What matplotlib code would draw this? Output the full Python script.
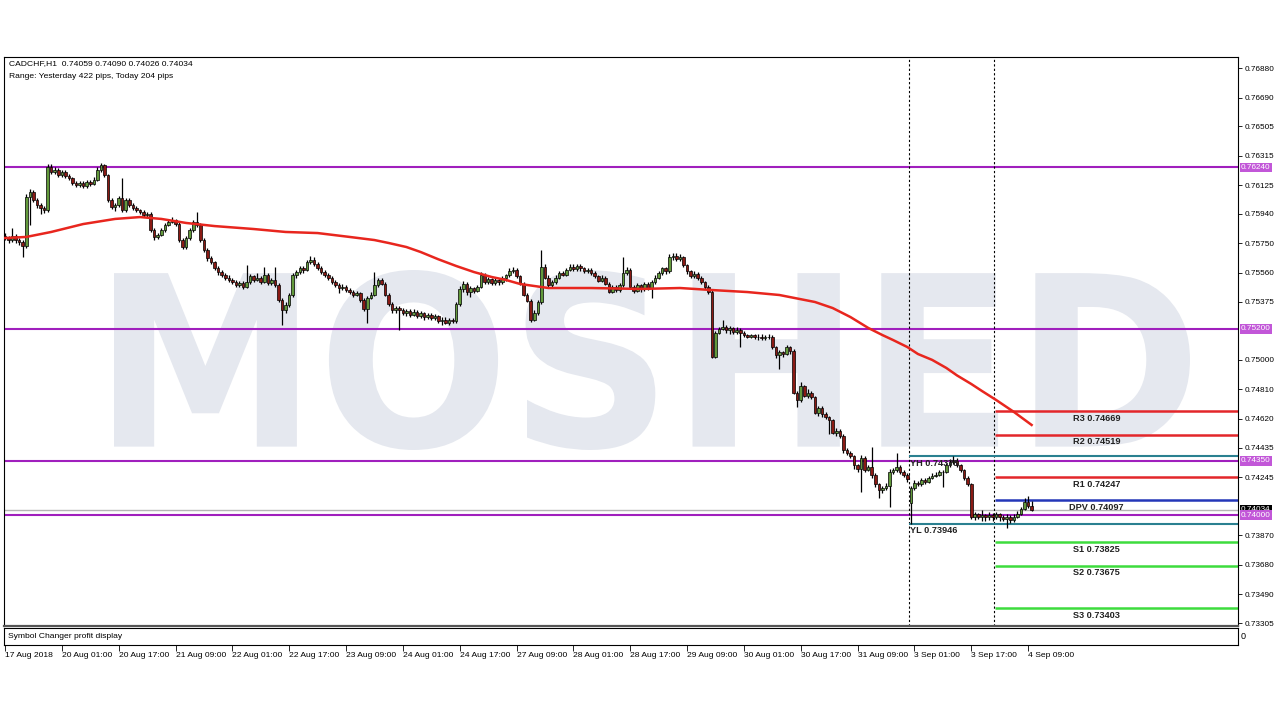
import numpy as np
import matplotlib.pyplot as plt
from matplotlib.textpath import TextPath
from matplotlib.font_manager import FontProperties
from matplotlib.patches import PathPatch
from matplotlib.transforms import Affine2D

# CADCHF H1 candles, prices in points (1e-5)
opens = [
    75800, 75785, 75772, 75798, 75772, 75759, 75734, 76049, 76081, 76030,
    75998, 75978, 75966, 76242, 76210, 76223, 76191, 76210, 76184, 76172,
    76140, 76127, 76140, 76120, 76146, 76133, 76159, 76223, 76255, 76191,
    76030, 75985, 75998, 76043, 75966, 76030, 75998, 75978, 75966, 75953,
    75933, 75940, 75837, 75792, 75805, 75837, 75869, 75888, 75901, 75875,
    75772, 75727, 75785, 75837, 75888, 75869, 75772, 75708, 75656, 75631,
    75592, 75566, 75547, 75528, 75515, 75502, 75483, 75496, 75470, 75502,
    75540, 75515, 75528, 75502, 75547, 75496, 75515, 75483, 75386, 75322,
    75354, 75418, 75547, 75566, 75592, 75579, 75631, 75644, 75618, 75592,
    75566, 75547, 75528, 75502, 75483, 75463, 75470, 75450, 75437, 75418,
    75431, 75386, 75330, 75399, 75420, 75480, 75515, 75490, 75420, 75360,
    75320, 75335, 75320, 75300, 75315, 75290, 75310, 75285, 75300, 75275,
    75290, 75270, 75280, 75250, 75260, 75240, 75255, 75250, 75360, 75455,
    75490, 75440, 75460, 75445, 75470, 75550, 75500, 75520, 75495, 75515,
    75500, 75525, 75545, 75570, 75580, 75540, 75490, 75420, 75380, 75260,
    75300, 75370, 75600, 75530, 75480, 75500, 75530, 75560, 75550, 75580,
    75600, 75585, 75605, 75590, 75570, 75580, 75560, 75540, 75510, 75530,
    75490, 75440, 75470, 75450, 75480, 75560, 75580, 75470, 75445, 75480,
    75455, 75490, 75460, 75500, 75530, 75560, 75590, 75570, 75660, 75670,
    75650, 75660, 75610, 75570, 75540, 75555, 75530, 75500, 75470, 75440,
    75020, 75175, 75200, 75215, 75190, 75205, 75180, 75195, 75175, 75160,
    75150, 75160, 75145, 75150, 75140, 75145, 75150, 75080, 75030, 75050,
    75040, 75080, 75060, 74790, 74740, 74830, 74770, 74790, 74760, 74660,
    74690, 74650, 74630, 74610, 74530, 74545, 74510, 74420, 74400, 74380,
    74320, 74300, 74370, 74290, 74310, 74260, 74200, 74160, 74175, 74190,
    74280, 74290, 74310, 74280, 74260, 74080, 74175, 74210, 74200, 74225,
    74215, 74240, 74255, 74260, 74275, 74280, 74320, 74340, 74350, 74320,
    74290, 74240, 74200, 73990, 74005, 73990, 74000, 73985, 74000, 73990,
    74005, 73985, 73975, 73990, 73970, 73990, 74010, 74040, 74085, 74059,
]
closes = [
    75785, 75772, 75798, 75772, 75759, 75734, 76049, 76081, 76030, 75998,
    75978, 75966, 76242, 76210, 76223, 76191, 76210, 76184, 76172, 76140,
    76127, 76140, 76120, 76146, 76133, 76159, 76223, 76255, 76191, 76030,
    75985, 75998, 76043, 75966, 76030, 75998, 75978, 75966, 75953, 75933,
    75940, 75837, 75792, 75805, 75837, 75869, 75888, 75901, 75875, 75772,
    75727, 75785, 75837, 75888, 75869, 75772, 75708, 75656, 75631, 75592,
    75566, 75547, 75528, 75515, 75502, 75483, 75496, 75470, 75502, 75540,
    75515, 75528, 75502, 75547, 75496, 75515, 75483, 75386, 75322, 75354,
    75418, 75547, 75566, 75592, 75579, 75631, 75644, 75618, 75592, 75566,
    75547, 75528, 75502, 75483, 75463, 75470, 75450, 75437, 75418, 75431,
    75386, 75330, 75399, 75420, 75480, 75515, 75490, 75420, 75360, 75320,
    75335, 75320, 75300, 75315, 75290, 75310, 75285, 75300, 75275, 75290,
    75270, 75280, 75250, 75260, 75240, 75255, 75250, 75360, 75455, 75490,
    75440, 75460, 75445, 75470, 75550, 75500, 75520, 75495, 75515, 75500,
    75525, 75545, 75570, 75580, 75540, 75490, 75420, 75380, 75260, 75300,
    75370, 75600, 75530, 75480, 75500, 75530, 75560, 75550, 75580, 75600,
    75585, 75605, 75590, 75570, 75580, 75560, 75540, 75510, 75530, 75490,
    75440, 75470, 75450, 75480, 75560, 75580, 75470, 75445, 75480, 75455,
    75490, 75460, 75500, 75530, 75560, 75590, 75570, 75660, 75670, 75650,
    75660, 75610, 75570, 75540, 75555, 75530, 75500, 75470, 75440, 75020,
    75175, 75200, 75215, 75190, 75205, 75180, 75195, 75175, 75160, 75150,
    75160, 75145, 75150, 75140, 75145, 75150, 75080, 75030, 75050, 75040,
    75080, 75060, 74790, 74740, 74830, 74770, 74790, 74760, 74660, 74690,
    74650, 74630, 74610, 74530, 74545, 74510, 74420, 74400, 74380, 74320,
    74300, 74370, 74290, 74310, 74260, 74200, 74160, 74175, 74190, 74280,
    74290, 74310, 74280, 74260, 74230, 74175, 74210, 74200, 74225, 74215,
    74240, 74255, 74260, 74275, 74280, 74320, 74340, 74350, 74320, 74290,
    74240, 74200, 73990, 74005, 73990, 74000, 73985, 74000, 73990, 74005,
    73985, 73975, 73990, 73970, 73990, 74010, 74040, 74085, 74059, 74034,
]
highs = [
    75815, 75800, 75850, 75810, 75785, 75770, 76070, 76100, 76095, 76045,
    76010, 75990, 76260, 76262, 76240, 76235, 76225, 76220, 76195, 76180,
    76150, 76155, 76150, 76160, 76160, 76175, 76240, 76270, 76265, 76200,
    76045, 76010, 76055, 76170, 76045, 76040, 76010, 75990, 75975, 75965,
    75955, 75950, 75850, 75820, 75850, 75880, 75905, 75920, 75910, 75885,
    75785, 75800, 75850, 75900, 75950, 75880, 75785, 75720, 75670, 75640,
    75605, 75580, 75560, 75545, 75530, 75515, 75510, 75505, 75610, 75555,
    75550, 75560, 75540, 75598, 75560, 75530, 75600, 75495, 75400, 75370,
    75430, 75560, 75580, 75605, 75605, 75645, 75670, 75660, 75630, 75605,
    75580, 75560, 75540, 75515, 75495, 75490, 75480, 75460, 75450, 75445,
    75440, 75400, 75410, 75440, 75566, 75530, 75525, 75500, 75430, 75370,
    75345, 75345, 75335, 75330, 75325, 75325, 75320, 75315, 75310, 75305,
    75300, 75295, 75290, 75275, 75275, 75270, 75270, 75370, 75475, 75505,
    75500, 75475, 75470, 75485, 75565, 75560, 75535, 75530, 75530, 75525,
    75540, 75555, 75590, 75600, 75590, 75550, 75500, 75430, 75390, 75320,
    75385, 75710, 75615, 75545, 75515, 75545, 75570, 75575, 75595, 75615,
    75615, 75620, 75615, 75600, 75595, 75590, 75570, 75550, 75545, 75540,
    75500, 75485, 75480, 75495, 75660, 75600, 75590, 75480, 75495, 75490,
    75500, 75500, 75515, 75545, 75575, 75600, 75600, 75680, 75690, 75690,
    75680, 75670, 75620, 75580, 75570, 75565, 75540, 75510, 75480, 75450,
    75185, 75215, 75260, 75225, 75220, 75215, 75210, 75205, 75185, 75170,
    75170, 75170, 75165, 75165, 75160, 75170, 75160, 75090, 75065, 75060,
    75095, 75090, 75070, 74800, 74860, 74840, 74810, 74800, 74770, 74705,
    74700, 74665, 74640, 74620, 74560, 74555, 74520, 74430, 74410, 74390,
    74330, 74385, 74380, 74325, 74440, 74270, 74210, 74190, 74205, 74295,
    74305, 74400, 74320, 74290, 74270, 74190, 74225, 74220, 74240, 74240,
    74255, 74270, 74275, 74290, 74290, 74335, 74360, 74378, 74365, 74330,
    74300, 74250, 74210, 74020, 74015, 74030, 74010, 74020, 74015, 74020,
    74015, 74000, 74010, 74000, 74005, 74025, 74055, 74110, 74122, 74090,
]
lows = [
    75770, 75755, 75760, 75750, 75740, 75665, 75720, 75870, 76015, 75980,
    75940, 75945, 75955, 76195, 76195, 76175, 76180, 76170, 76160, 76125,
    76115, 76115, 76105, 76110, 76120, 76125, 76150, 76210, 76180, 76015,
    75970, 75960, 75985, 75950, 75955, 75985, 75965, 75950, 75940, 75920,
    75915, 75825, 75775, 75780, 75795, 75825, 75860, 75880, 75860, 75760,
    75715, 75715, 75775, 75825, 75855, 75760, 75695, 75640, 75615, 75580,
    75550, 75535, 75515, 75500, 75490, 75470, 75470, 75455, 75460, 75490,
    75500, 75505, 75490, 75495, 75485, 75480, 75470, 75375, 75225, 75300,
    75340, 75405, 75530, 75555, 75560, 75570, 75620, 75605, 75580, 75555,
    75535, 75515, 75490, 75470, 75430, 75450, 75440, 75425, 75405, 75410,
    75375, 75315, 75240, 75390, 75410, 75470, 75480, 75410, 75350, 75305,
    75300, 75190, 75290, 75285, 75275, 75280, 75270, 75270, 75260, 75265,
    75255, 75255, 75235, 75225, 75230, 75225, 75235, 75240, 75350, 75440,
    75420, 75405, 75430, 75435, 75460, 75490, 75490, 75480, 75480, 75485,
    75490, 75510, 75535, 75560, 75530, 75480, 75410, 75370, 75245, 75250,
    75290, 75360, 75520, 75470, 75470, 75490, 75520, 75540, 75540, 75570,
    75575, 75575, 75575, 75560, 75560, 75545, 75530, 75500, 75500, 75480,
    75430, 75430, 75435, 75440, 75470, 75545, 75455, 75430, 75435, 75440,
    75445, 75450, 75400, 75490, 75520, 75550, 75555, 75560, 75645, 75635,
    75640, 75600, 75555, 75530, 75525, 75515, 75490, 75455, 75425, 75010,
    75010, 75165, 75190, 75175, 75170, 75165, 75170, 75080, 75150, 75140,
    75140, 75135, 75130, 75125, 75125, 75135, 75070, 75015, 74940, 75020,
    75030, 75040, 74780, 74695, 74730, 74760, 74755, 74745, 74650, 74640,
    74630, 74620, 74520, 74520, 74510, 74495, 74400, 74385, 74370, 74300,
    74280, 74150, 74275, 74285, 74240, 74180, 74110, 74140, 74160, 74050,
    74265, 74280, 74265, 74245, 74215, 73946, 74160, 74185, 74190, 74200,
    74205, 74230, 74245, 74250, 74180, 74270, 74310, 74330, 74310, 74275,
    74225, 74185, 73975, 73970, 73975, 73965, 73960, 73970, 73960, 73975,
    73965, 73960, 73918, 73950, 73955, 73980, 74000, 74030, 74045, 74026,
]

# moving average at sample bars
ma_bars = [0, 6, 13, 22, 31, 38, 44, 51, 59, 70, 79, 88, 97, 104, 108, 113, 117,
           122, 127, 132, 137, 141, 145, 149, 153, 165, 179, 190, 199, 209, 218,
           228, 233, 238, 243, 247, 250, 254, 257, 261, 265, 268, 272, 275, 279,
           284, 289]
ma_vals = [75785, 75792, 75824, 75875, 75908, 75920, 75908, 75882, 75862, 75843,
           75824, 75817, 75792, 75772, 75753, 75727, 75695, 75648, 75605, 75566,
           75534, 75515, 75489, 75476, 75463, 75463, 75457, 75463, 75450, 75437,
           75418, 75373, 75334, 75276, 75206, 75160, 75128, 75083, 75038, 75000,
           74948, 74900, 74845, 74800, 74742, 74665, 74581]

levels = [0.76240, 0.75200, 0.74350, 0.74000]
bid = 0.74034

piv_names = ["R3", "R2", "R1", "DPV", "S1", "S2", "S3"]
piv_vals = [0.74669, 0.74519, 0.74247, 0.74097, 0.73825, 0.73675, 0.73403]
piv_cols = ["#e3262a", "#e3262a", "#e3262a", "#2436b8", "#3ddc3d", "#3ddc3d", "#3ddc3d"]
yh, yl = 0.74378, 0.73946

y_ticks = [0.76880, 0.76690, 0.76505, 0.76315, 0.76125, 0.75940, 0.75750, 0.75560,
           0.75375, 0.75000, 0.74810, 0.74620, 0.74435, 0.74245, 0.73870, 0.73680,
           0.73490, 0.73305]
date_bars = list(range(0, 289, 16))
date_labels = ["17 Aug 2018", "20 Aug 01:00", "20 Aug 17:00", "21 Aug 09:00", "22 Aug 01:00",
               "22 Aug 17:00", "23 Aug 09:00", "24 Aug 01:00", "24 Aug 17:00", "27 Aug 09:00",
               "28 Aug 01:00", "28 Aug 17:00", "29 Aug 09:00", "30 Aug 01:00", "30 Aug 17:00",
               "31 Aug 09:00", "3 Sep 01:00", "3 Sep 17:00", "4 Sep 09:00"]
day_starts = [255, 279]

plt.rcParams['font.family'] = ['Liberation Sans', 'DejaVu Sans']

o = np.array(opens) / 1e5
c = np.array(closes) / 1e5
h = np.array(highs) / 1e5
l = np.array(lows) / 1e5
idx = np.arange(len(c))

fig = plt.figure(figsize=(12.8, 7.2), dpi=100)
ax = fig.add_axes([4/1280, 1-626/720, 1234/1280, 569/720])
x_right = 347.1
ax.set_xlim(-0.28, x_right)
ax.set_ylim(0.73286, 0.76951)

# watermark
tp = TextPath((0, 0), "MOSHED", size=100, prop=FontProperties(family="DejaVu Sans", weight="bold"))
ext = tp.get_extents()
tr = (Affine2D().translate(-ext.x0, -ext.y0)
      .scale((1190-114)/ext.width, (450-270)/ext.height)
      .translate(114, 270).scale(1/1280, 1/720) + fig.transFigure)
wm = PathPatch(tp, transform=tr, facecolor="#e5e8ef", edgecolor="none", zorder=0.5)
ax.add_artist(wm)

# candles
up = c >= o
body_lo = np.minimum(o, c)
body_h = np.maximum(np.abs(c - o), 0.000015)
ax.vlines(idx, l, h, color="black", lw=0.9, zorder=3)
ax.bar(idx[up], body_h[up], bottom=body_lo[up], width=0.72, color="#62993b",
       edgecolor="black", lw=0.5, zorder=4)
ax.bar(idx[~up], body_h[~up], bottom=body_lo[~up], width=0.72, color="#8a1a14",
       edgecolor="black", lw=0.5, zorder=4)

ax.plot(ma_bars, np.array(ma_vals) / 1e5, color="#e8261e", lw=1.8, zorder=5)

for v in levels:
    ax.axhline(v, color="#a01fbd", lw=1.5, zorder=2)
ax.axhline(bid, color="#b5b5b5", lw=1.0, zorder=2)

for d in day_starts:
    ax.axvline(d - 0.5, color="black", lw=0.8, ls=(0, (2, 2)), zorder=2)

# yesterday high / low
for v, name in [(yh, "YH"), (yl, "YL")]:
    ax.hlines(v, day_starts[0] - 0.5, x_right, color="#2a8090", lw=1.5, zorder=2)
    ax.annotate(f"{name} {v:.5f}", xy=(day_starts[0] - 0.3, v), xytext=(0, -1.5),
                textcoords="offset points", ha="left", va="top", fontsize=6.6,
                fontweight="bold", color="#222222", zorder=6)

# daily pivots
for name, v, col in zip(piv_names, piv_vals, piv_cols):
    ax.hlines(v, day_starts[1] - 0.3, x_right, color=col, lw=1.8, zorder=2)
    ax.annotate(f"{name} {v:.5f}", xy=(307.2, v), xytext=(0, -2),
                textcoords="offset points", ha="center", va="top", fontsize=6.6,
                fontweight="bold", color="#222222", zorder=6)

ax.text(0.004, 0.9877, "CADCHF,H1  0.74059 0.74090 0.74026 0.74034", transform=ax.transAxes,
        fontsize=6.1, va="center", ha="left")
ax.text(0.004, 0.9666, "Range: Yesterday 422 pips, Today 204 pips", transform=ax.transAxes,
        fontsize=6.1, va="center", ha="left")

ax.set_xticks([])
ax.yaxis.tick_right()
ax.set_yticks(y_ticks)
ax.set_yticklabels([f"{v:.5f}" for v in y_ticks])
ax.tick_params(axis="y", labelsize=5.9, length=3, pad=2, width=0.6)
for s in ax.spines.values():
    s.set_linewidth(0.8)
ax.spines["bottom"].set_linewidth(1.6)
ax.spines["bottom"].set_color("#555555")

# price boxes on the right scale
ax.annotate(f"{bid:.5f}", xy=(1, bid), xycoords=("axes fraction", "data"), xytext=(2, 0),
            textcoords="offset points", ha="left", va="center", fontsize=5.9, color="white",
            bbox=dict(boxstyle="square,pad=0.15", fc="black", ec="none"), annotation_clip=False)
for v in levels:
    ax.annotate(f"{v:.5f}", xy=(1, v), xycoords=("axes fraction", "data"), xytext=(2, 0),
                textcoords="offset points", ha="left", va="center", fontsize=5.9, color="white",
                bbox=dict(boxstyle="square,pad=0.15", fc="#c257d8", ec="none"),
                annotation_clip=False)

# lower indicator panel with the time scale
ax2 = fig.add_axes([4/1280, 1-645/720, 1234/1280, 17/720])
ax2.set_xlim(-0.28, x_right)
ax2.set_yticks([])
ax2.text(0.003, 0.5, "Symbol Changer profit display", transform=ax2.transAxes,
         fontsize=6.1, va="center", ha="left")
ax2.text(1.002, 0.5, "0", transform=ax2.transAxes, fontsize=6.5, va="center", ha="left")
ax2.set_xticks(date_bars)
ax2.set_xticklabels(date_labels, fontsize=6.1, ha="left")
ax2.tick_params(axis="x", length=4, pad=1, width=0.6)
for s in ax2.spines.values():
    s.set_linewidth(0.8)

fig.savefig("out.png", dpi=100)
